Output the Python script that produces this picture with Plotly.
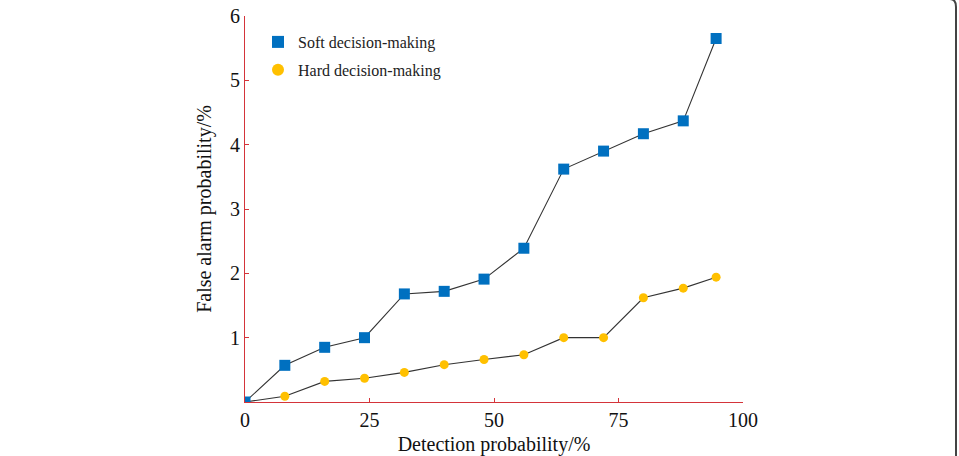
import plotly.graph_objects as go

# Data
x_vals = [0, 8, 16, 24, 32, 40, 48, 56, 64, 72, 80, 88, 94.6]
soft_vals = [0, 0.57, 0.85, 1.0, 1.68, 1.72, 1.91, 2.39, 3.62, 3.90, 4.17, 4.37, 5.65]
hard_vals = [0, 0.09, 0.32, 0.37, 0.46, 0.58, 0.66, 0.735, 1.0, 1.0, 1.62, 1.77, 1.94]
x_ticks = [0, 25, 50, 75, 100]
y_ticks = [1, 2, 3, 4, 5, 6]

W, H = 959, 456
L, R, T, B = 245, 216, 16, 54
FONT = "Liberation Serif"
RED = "#d4343a"
BLUE = "#0070c0"
YEL = "#ffc000"

fig = go.Figure()
fig.add_trace(go.Scatter(
    x=x_vals, y=hard_vals, mode="lines+markers", showlegend=False,
    line=dict(color="#333333", width=1.1),
    marker=dict(symbol="circle", size=9, color=YEL),
))
fig.add_trace(go.Scatter(
    x=x_vals, y=soft_vals, mode="lines+markers", showlegend=False,
    line=dict(color="#333333", width=1.1),
    marker=dict(symbol="square", size=11, color=BLUE),
))
# legend-only entries (markers only)
fig.add_trace(go.Scatter(
    x=[None], y=[None], mode="markers", name="Soft decision-making",
    marker=dict(symbol="square", size=9, color=BLUE), legendgroup="a",
))
fig.add_trace(go.Scatter(
    x=[None], y=[None], mode="markers", name="Hard decision-making",
    marker=dict(symbol="circle", size=8, color=YEL), legendgroup="b",
))

pw = W - L - R
ph = H - T - B

def px(xp):
    return (xp - L) / pw

def py(yp):
    return (H - B - yp) / ph

# frame edge at the right (rounded corner)
path = (f"M {px(950)},{py(-1)} Q {px(956)},{py(-1)} {px(956)},{py(7)} "
        f"L {px(956)},{py(470)}")
fig.add_shape(type="path", xref="paper", yref="paper", path=path,
              line=dict(color="#444444", width=2))

fig.update_layout(
    width=W, height=H, autosize=False,
    margin=dict(l=L, r=R, t=T, b=B, pad=0, autoexpand=False),
    paper_bgcolor="white", plot_bgcolor="white",
    font=dict(family=FONT, color="#111111"),
    showlegend=True,
    legend=dict(
        x=px(258), y=py(25), xanchor="left", yanchor="top",
        font=dict(family=FONT, size=16, color="#222222"),
        bgcolor="rgba(0,0,0,0)", itemsizing="constant",
        tracegroupgap=4, traceorder="grouped",
    ),
)
fig.update_xaxes(
    range=[0, 100], tickvals=x_ticks, ticks="inside", ticklen=4, tickcolor=RED,
    showline=True, linecolor=RED, linewidth=1.2, showgrid=False, zeroline=False,
    automargin=False,
    tickfont=dict(family=FONT, size=20, color="#111111"),
    title=dict(text="Detection probability/%", font=dict(family=FONT, size=20, color="#111111"),
               standoff=8),
)
fig.update_yaxes(
    range=[0, 6], tickvals=y_ticks, ticks="inside", ticklen=4, tickcolor=RED,
    showline=True, linecolor=RED, linewidth=1.2, showgrid=False, zeroline=False,
    automargin=False,
    tickfont=dict(family=FONT, size=20, color="#111111"),
    title=dict(text="False alarm probability/%", font=dict(family=FONT, size=20, color="#111111"),
               standoff=12),
)

fig.write_html("out.html")
